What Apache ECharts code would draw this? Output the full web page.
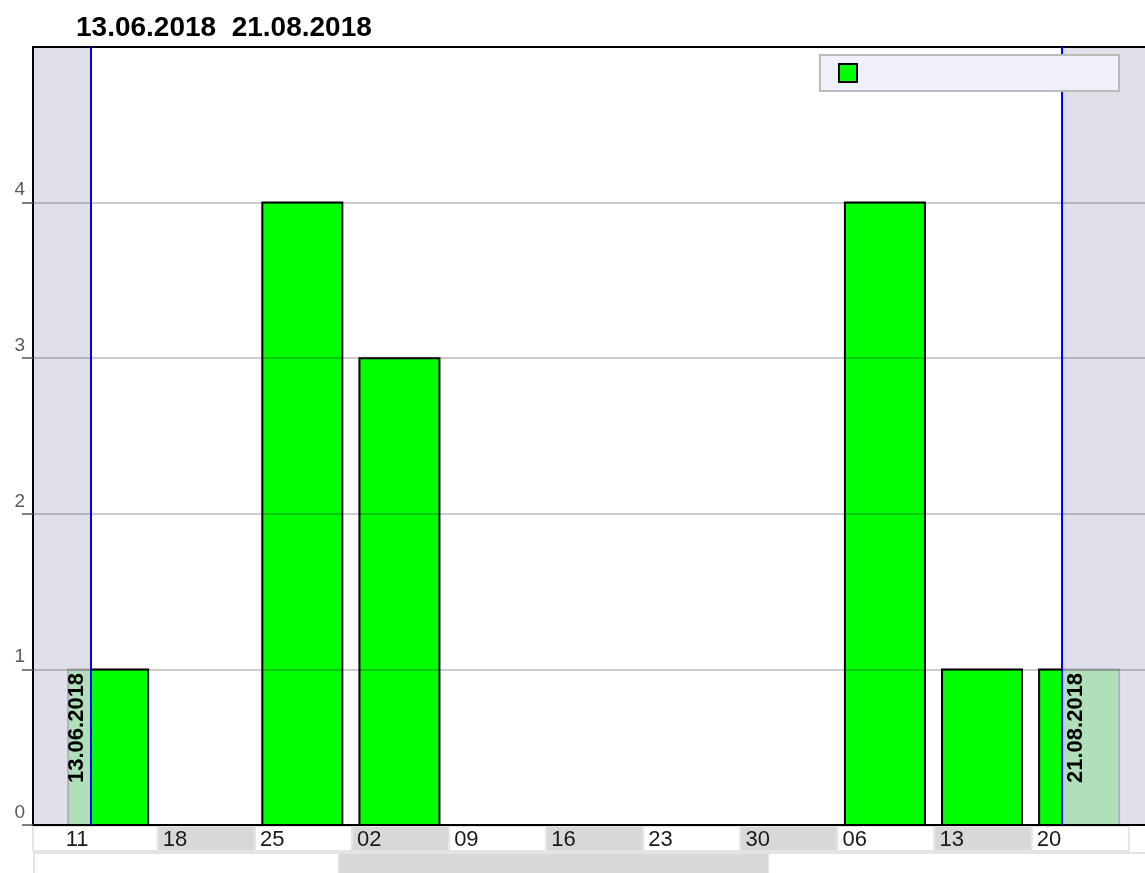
<!DOCTYPE html>
<html>
<head>
<meta charset="utf-8">
<script src="https://cdn.jsdelivr.net/npm/echarts@6/dist/echarts.min.js"></script>
<style>
  html, body { margin: 0; padding: 0; background: #fff; }
  #chart { width: 1145px; height: 873px; }
</style>
</head>
<body>
<div id="chart"></div>
<script>
// weekly buckets (week start, Monday)
const weekStarts = ['2018-06-11', '2018-06-18', '2018-06-25', '2018-07-02', '2018-07-09', '2018-07-16',
  '2018-07-23', '2018-07-30', '2018-08-06', '2018-08-13', '2018-08-20'];
const weekLabels = ['11', '18', '25', '02', '09', '16', '23', '30', '06', '13', '20'];
const counts = [1, 0, 4, 3, 0, 0, 0, 0, 4, 1, 1];

// selected range
const rangeLabels = ['13.06.2018', '21.08.2018'];
const rangeMarks = ['2018-06-13T04:40:00Z', '2018-08-22T04:00:00Z'];
const viewStart = '2018-06-09T00:00:00Z';
const viewEnd = '2018-08-28T04:00:00Z';

const DAY = 864e5;
const ts = s => new Date(s.length === 10 ? s + 'T00:00:00Z' : s).getTime();
const FONT = '"Liberation Sans", Arial, Helvetica, sans-serif';
const BAR_W = 80;

const chart = echarts.init(document.getElementById('chart'));

const barData = weekStarts.map((d, i) => [ts(d) + 82 * 3600e3, counts[i]]);
const cellData = weekStarts.map(d => [ts(d), 0]);

function renderBar(params, api) {
  if (!api.value(1)) return null;
  const top = api.coord([api.value(0), api.value(1)]);
  const base = api.coord([api.value(0), 0]);
  return {
    type: 'rect',
    shape: { x: top[0] - BAR_W / 2, y: top[1], width: BAR_W, height: base[1] - top[1] },
    style: { fill: '#00ff00', stroke: '#000', lineWidth: 2 }
  };
}

function renderCell(params, api) {
  const i = params.dataIndex;
  const cs = params.coordSys;
  const p0 = api.coord([api.value(0), 1]);
  const p1 = api.coord([api.value(0) + 7 * DAY, 0]);
  const left = i === 0 ? cs.x : Math.max(p0[0], cs.x);
  const right = Math.min(p1[0], cs.x + cs.width);
  return {
    type: 'group',
    children: [{
      type: 'rect',
      shape: { x: left, y: p0[1], width: right - left, height: p1[1] - p0[1] },
      style: { fill: i % 2 ? '#d8d8d8' : '#fff', stroke: '#e4e4e4', lineWidth: 2 }
    }, {
      type: 'text',
      style: {
        text: weekLabels[i], x: p0[0] + 5, y: (p0[1] + p1[1]) / 2 + 1,
        verticalAlign: 'middle', fontSize: 22, fontFamily: FONT, fill: '#1a1a1a'
      }
    }]
  };
}

chart.setOption({
  animation: false,
  backgroundColor: '#fff',
  title: {
    text: rangeLabels.join('  '),
    left: 76, top: 14, padding: 0,
    textStyle: { fontFamily: FONT, fontSize: 28, fontWeight: 'bold', color: '#000' }
  },
  legend: {
    right: 26, top: 55, z: 10,
    selectedMode: false,
    backgroundColor: '#f0f0fa',
    borderColor: '#bbb', borderWidth: 2, borderRadius: 0,
    padding: [8, 18, 8, 18],
    itemWidth: 18, itemHeight: 18, itemGap: 5,
    icon: 'rect',
    textStyle: { width: 239, fontSize: 14, lineHeight: 18 },
    data: [' ']
  },
  grid: [
    { left: 33, right: 0, top: 47, bottom: 48, show: true, backgroundColor: '#fff', borderWidth: 0 },
    { left: 33, right: 0, top: 826, height: 25 }
  ],
  xAxis: [
    {
      type: 'time', gridIndex: 0, min: ts(viewStart), max: ts(viewEnd), z: 5,
      axisLine: { show: true, lineStyle: { color: '#000', width: 2 } },
      axisTick: { show: false }, axisLabel: { show: false }, splitLine: { show: false }
    },
    {
      type: 'time', gridIndex: 0, position: 'top', min: ts(viewStart), max: ts(viewEnd), z: 5,
      axisLine: { show: true, lineStyle: { color: '#000', width: 2 } },
      axisTick: { show: false }, axisLabel: { show: false }, splitLine: { show: false }
    },
    {
      type: 'time', gridIndex: 1, min: ts(viewStart), max: ts(viewEnd),
      axisLine: { show: false }, axisTick: { show: false }, axisLabel: { show: false }, splitLine: { show: false }
    }
  ],
  yAxis: [
    {
      type: 'value', gridIndex: 0, min: 0, max: 5, interval: 1, z: 5,
      axisLine: { show: true, lineStyle: { color: '#000', width: 2 } },
      axisTick: { show: true, length: 11, lineStyle: { color: '#555', width: 1.5 } },
      axisLabel: {
        showMaxLabel: false, margin: 8, verticalAlign: 'bottom', padding: [0, 0, 3, 0],
        fontFamily: FONT, fontSize: 19, color: '#5a5a5a'
      },
      splitLine: { show: true, lineStyle: { color: 'rgba(0,0,0,0.2)', width: 2 } }
    },
    {
      type: 'value', gridIndex: 1, min: 0, max: 1, show: false
    }
  ],
  series: [
    {
      name: ' ',
      type: 'custom',
      xAxisIndex: 0, yAxisIndex: 0,
      renderItem: renderBar,
      encode: { x: 0, y: 1 },
      itemStyle: { color: '#00ff00', borderColor: '#000', borderWidth: 2 },
      data: barData,
      markArea: {
        z: 3,
        silent: true,
        itemStyle: { color: 'rgba(217,217,229,0.81)' },
        data: [
          [{ xAxis: ts(viewStart) }, { xAxis: ts(rangeMarks[0]) }],
          [{ xAxis: ts(rangeMarks[1]) }, { xAxis: ts(viewEnd) }]
        ]
      },
      markLine: {
        z: 6,
        silent: true,
        symbol: 'none',
        lineStyle: { color: '#0000ff', width: 2, type: 'solid' },
        label: {
          fontFamily: FONT, fontSize: 22, fontWeight: 'bold', color: '#000',
          distance: [42, 3]
        },
        data: [
          { xAxis: ts(rangeMarks[0]), label: { position: 'insideStartTop', formatter: rangeLabels[0] } },
          { xAxis: ts(rangeMarks[1]), label: { position: 'insideStartBottom', formatter: rangeLabels[1] } }
        ]
      }
    },
    {
      type: 'custom',
      xAxisIndex: 2, yAxisIndex: 1,
      renderItem: renderCell,
      encode: { x: 0, y: 1 },
      data: cellData,
      silent: true
    }
  ],
  graphic: [
    {
      type: 'rect', left: 33, top: 852,
      shape: { width: 1114, height: 23 },
      style: { fill: '#fff', stroke: '#e4e4e4', lineWidth: 2 }
    },
    {
      type: 'rect', left: 338, top: 853,
      shape: { width: 430, height: 22 },
      style: { fill: '#d8d8d8', stroke: '#e4e4e4', lineWidth: 1 }
    }
  ]
});
</script>
</body>
</html>
